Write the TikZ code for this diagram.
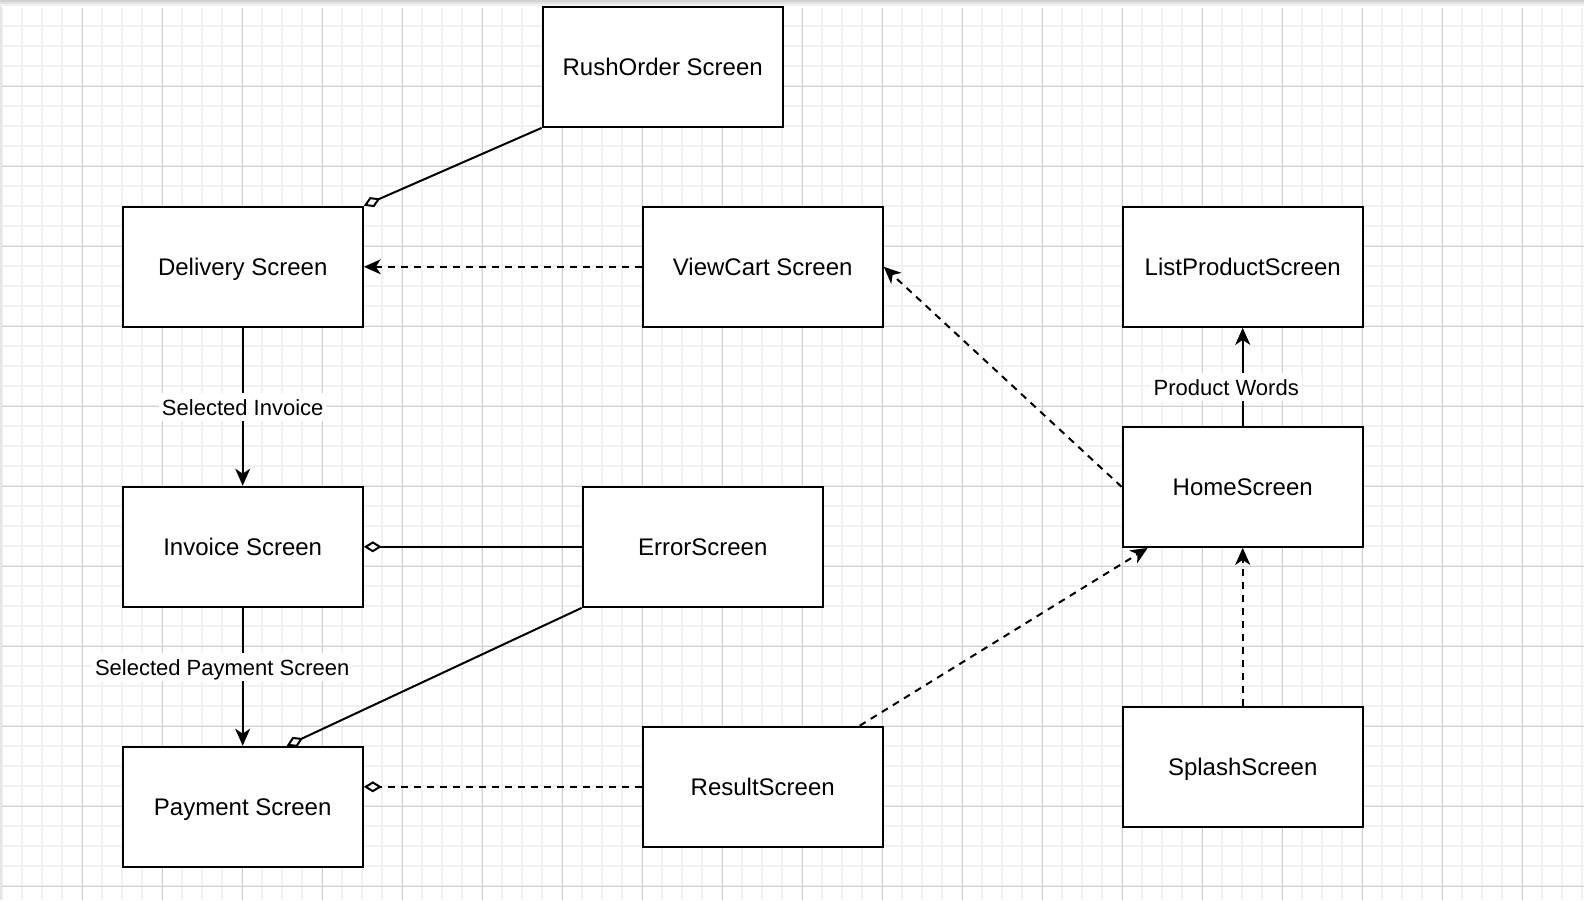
\documentclass[tikz,border=0pt]{standalone}
\usepackage{fontspec}
\setmainfont{Liberation Sans}
\usetikzlibrary{arrows.meta}
\definecolor{minorgrid}{HTML}{F1F1F1}
\definecolor{majorgrid}{HTML}{D0D0D0}
\tikzset{
  box/.style={draw=black, line width=2.2pt, fill=white, minimum width=240pt, minimum height=120pt, inner sep=0pt, text height=17pt, text depth=0pt, font=\fontsize{24}{28}\selectfont},
  conn/.style={line width=2pt, black},
  solidarrow/.style={conn, -{Stealth[length=17pt,width=15pt,inset=5pt]}},
  dasharrow/.style={conn, dash pattern=on 7pt off 6pt, -{Stealth[length=17pt,width=15pt,inset=5pt]}},
  agg/.style={conn, -{Diamond[open,length=18pt,width=11pt,line width=2pt]}},
  aggdash/.style={conn, dash pattern=on 7pt off 6pt, -{Diamond[open,length=18pt,width=11pt,line width=2pt]}},
  lbl/.style={fill=white, inner xsep=3pt, inner ysep=6pt, text height=15.8pt, text depth=0pt, font=\fontsize{22}{26}\selectfont},
}
\begin{document}
\begin{tikzpicture}[x=1pt,y=-1pt]
\useasboundingbox (0,0) rectangle (1584,900);
\fill[white] (0,0) rectangle (1584,900);
% grid
\foreach \x in {2,22,...,1582} \draw[minorgrid, line width=2pt] (\x,8) -- (\x,900);
\foreach \y in {26,46,...,886} \draw[minorgrid, line width=2pt] (2,\y) -- (1584,\y);
\foreach \x in {82,162,...,1522} \draw[majorgrid, line width=1pt] (\x,8) -- (\x,900);
\foreach \y in {86,166,...,886} \draw[majorgrid, line width=1pt] (2,\y) -- (1584,\y);
% top shadow
\fill[gray!35] (0,0) rectangle (1584,2);
\fill[gray!22] (0,2) rectangle (1584,4);
\fill[gray!10] (0,4) rectangle (1584,6);
\draw[gray!20, line width=1.5pt] (1,6) -- (1,900);
\begin{scope}[shift={(0.7,0.8)}]
% nodes
\node[box] (rush) at (662,66) {RushOrder Screen};
\node[box] (delivery) at (242,266) {Delivery Screen};
\node[box] (viewcart) at (762,266) {ViewCart Screen};
\node[box] (listprod) at (1242,266) {ListProductScreen};
\node[box] (home) at (1242,486) {HomeScreen};
\node[box] (invoice) at (242,546) {Invoice Screen};
\node[box] (error) at (702,546) {ErrorScreen};
\node[box] (payment) at (242,806) {Payment Screen};
\node[box] (result) at (762,786) {ResultScreen};
\node[box] (splash) at (1242,766) {SplashScreen};
% connectors
\draw[agg] (rush.south west) -- (delivery.north east);
\draw[dasharrow] (viewcart.west) -- (delivery.east);
\draw[solidarrow] (delivery.south) -- (invoice.north);
\node[lbl] (l1) at (242,406.5) {Selected Invoice};
\draw[solidarrow] (invoice.south) -- (payment.north);
\node[lbl] (l2) at (221.5,666.5) {Selected Payment Screen};
\draw[agg] (error.west) -- (invoice.east);
\draw[agg] (error.south west) -- ([xshift=44pt]payment.north);
\draw[aggdash] (result.west) -- (payment.east |- result.west);
\draw[dasharrow] (home.west) -- (viewcart.east);
\draw[dasharrow] ([xshift=97pt]result.north) -- ([xshift=-95pt]home.south);
\draw[dasharrow] (splash.north) -- (home.south);
\draw[solidarrow] (home.north) -- (listprod.south);
\node[lbl] (l3) at (1225.5,386.5) {Product Words};
\end{scope}
\end{tikzpicture}
\end{document}
